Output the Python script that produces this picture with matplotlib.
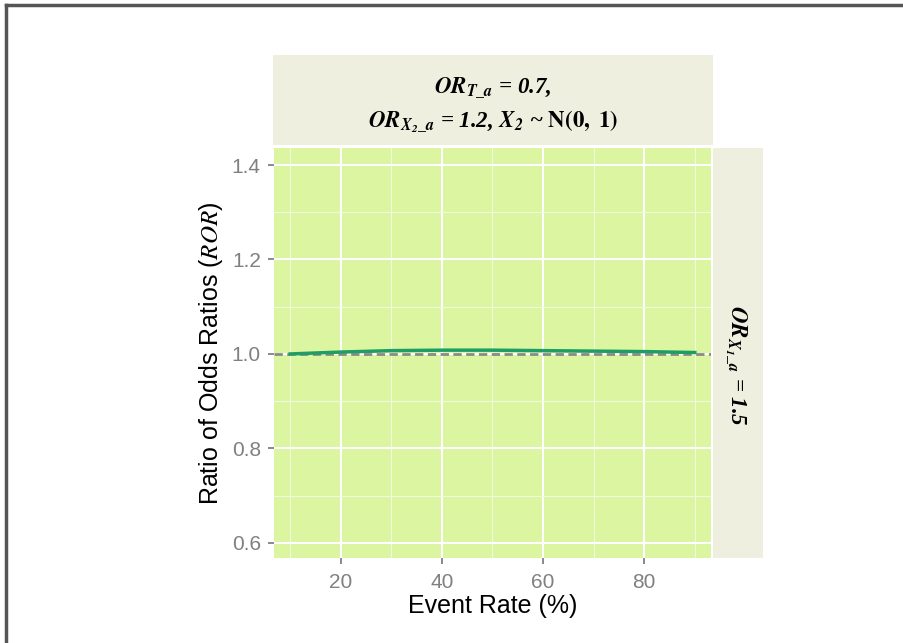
import numpy as np
import matplotlib
matplotlib.use("Agg")
import matplotlib.pyplot as plt
from matplotlib.lines import Line2D

plt.rcParams['mathtext.fontset'] = 'stix'
plt.rcParams['font.family'] = ['Liberation Sans', 'DejaVu Sans']

# data
event_rate = [10, 20, 30, 40, 50, 60, 70, 80, 90]
ror = [1.000, 1.004, 1.007, 1.008, 1.008, 1.007, 1.006, 1.005, 1.003]
x_ticks = [20, 40, 60, 80]
y_ticks = [0.6, 0.8, 1.0, 1.2, 1.4]
top_label = [r'$\mathbfit{OR}_{\mathbfit{T\_a}}$ = 0.7,',
             r'$\mathbfit{OR}_{\mathbfit{X}_{\mathbfit{2}}\mathbfit{\_a}}$ = 1.2, $\mathbfit{X}_{\mathbfit{2}}$ ~ $\mathbf{N(0,\ 1)}$']
right_label = r'$\mathbfit{OR}_{\mathbfit{X}_{\mathbfit{1}}\mathbfit{\_a}}$ = 1.5'

panel_bg = '#dbf5a0'
strip_bg = '#efefe0'
tick_grey = '#808080'

fig = plt.figure(figsize=(9.04, 6.43), dpi=100)
fig.patch.set_facecolor('white')

ax = fig.add_axes([0.3031, 0.1322, 0.4834, 0.6376])
ax.set_facecolor(panel_bg)
for s in ax.spines.values():
    s.set_visible(False)

ax.set_xlim(6.8, 93.2)
ax.set_ylim(0.568, 1.436)
ax.set_xticks(x_ticks)
ax.set_yticks(y_ticks)
ax.set_xticks([10, 30, 50, 70, 90], minor=True)
ax.set_yticks([0.7, 0.9, 1.1, 1.3], minor=True)
ax.set_yticklabels(['%.1f' % v for v in y_ticks])
ax.grid(True, which='major', color='white', linewidth=1.5)
ax.grid(True, which='minor', color='#f2fadc', linewidth=0.8)
ax.set_axisbelow(True)
ax.tick_params(which='major', length=4.5, width=1.3, color=tick_grey,
               labelcolor=tick_grey, labelsize=15)
ax.tick_params(axis='x', which='major', pad=6)
ax.tick_params(axis='y', which='major', pad=5)
ax.tick_params(which='minor', length=0)

ax.axhline(1.0, color='#8a8a8a', linestyle=(0, (3, 1.6)), linewidth=2, zorder=2)
ax.plot(event_rate, ror, color='#1f9e63', linewidth=2.5, zorder=3)

ax.set_xlabel('Event Rate (%)', fontsize=18, labelpad=2)
ax.set_ylabel(r'Ratio of Odds Ratios ($\mathit{ROR}$)', fontsize=18, labelpad=5)

# top strip
sx = fig.add_axes([0.302, 0.7745, 0.4867, 0.140])
sx.set_facecolor(strip_bg)
sx.set_xticks([]); sx.set_yticks([])
for s in sx.spines.values():
    s.set_visible(False)
sx.text(0.5, 0.64, top_label[0], ha='center', va='center', fontsize=16.5,
        family='Liberation Serif', weight='bold', style='italic', transform=sx.transAxes)
sx.text(0.5, 0.26, top_label[1], ha='center', va='center', fontsize=16.5,
        family='Liberation Serif', weight='bold', style='italic', transform=sx.transAxes)

# right strip
sy = fig.add_axes([0.7887, 0.1322, 0.0553, 0.6376])
sy.set_facecolor(strip_bg)
sy.set_xticks([]); sy.set_yticks([])
for s in sy.spines.values():
    s.set_visible(False)
sy.text(0.45, 0.47, right_label, ha='center', va='center', rotation=270, fontsize=16.5,
        family='Liberation Serif', weight='bold', style='italic', transform=sy.transAxes)

# outer frame (left and top edges only)
fig.add_artist(Line2D([0.0070, 0.0070], [0.0, 0.992], color='#555555', linewidth=2.5,
                      transform=fig.transFigure))
fig.add_artist(Line2D([0.0070, 1.0], [0.992, 0.992], color='#555555', linewidth=2.5,
                      transform=fig.transFigure))

fig.savefig('out.png', dpi=100)
